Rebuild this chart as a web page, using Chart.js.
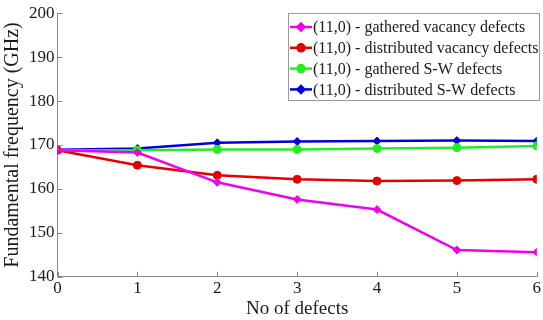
<!DOCTYPE html>
<html>
<head>
<meta charset="utf-8">
<script src="https://cdn.jsdelivr.net/npm/chart.js@4/dist/chart.umd.min.js"></script>
<style>
  body { margin: 0; background: #fff; overflow: hidden; }
  #wrap { width: 543px; height: 320px; }
</style>
</head>
<body>
<div id="wrap"><canvas id="myChart" width="543" height="320"></canvas></div>
<script>
let defects = [0, 1, 2, 3, 4, 5, 6];
let gatheredVacancy = [168.8, 168.3, 161.5, 157.6, 155.3, 146.1, 145.6];
let distributedVacancy = [168.8, 165.4, 163.1, 162.2, 161.8, 161.9, 162.2];
let gatheredSW = [168.8, 168.8, 169.0, 169.0, 169.2, 169.4, 169.8];
let distributedSW = [168.9, 169.2, 170.5, 170.8, 170.9, 171.0, 170.9];
let yTicks = [140, 150, 160, 170, 180, 190, 200];

let seriesNames = [
  "(11,0) - gathered vacancy defects",
  "(11,0) - distributed vacancy defects",
  "(11,0) - gathered S-W defects",
  "(11,0) - distributed S-W defects",
];
let seriesColors = ["#f000f0", "#e50000", "#22ee22", "#0000dd"];
let seriesMarkers = ["rectRot", "circle", "circle", "rectRot"];
let seriesData = [gatheredVacancy, distributedVacancy, gatheredSW, distributedSW];

let serif = "'Liberation Serif', 'Times New Roman', serif";

// legend box inside the plot + matlab style inward ticks
let extras = {
  id: "extras",
  afterDraw(chart) {
    let c = chart.ctx;
    let xs = chart.scales.x;
    let ys = chart.scales.y;
    c.save();
    c.strokeStyle = "#888";
    c.lineWidth = 1;
    defects.forEach((d) => {
      let px = Math.round(xs.getPixelForValue(d)) + 0.5;
      c.beginPath();
      c.moveTo(px, ys.bottom);
      c.lineTo(px, ys.bottom - 5);
      c.stroke();
    });
    yTicks.forEach((t) => {
      let py = Math.round(ys.getPixelForValue(t)) + 0.5;
      c.beginPath();
      c.moveTo(xs.left, py);
      c.lineTo(xs.left + 5, py);
      c.stroke();
    });

    // legend
    let bx = 288, by = 13, bw = 251, bh = 87;
    c.fillStyle = "#fff";
    c.fillRect(bx, by, bw, bh);
    c.strokeStyle = "#999";
    c.strokeRect(bx + 0.5, by + 0.5, bw, bh);
    c.font = "16px " + serif;
    c.textBaseline = "middle";
    seriesNames.forEach((name, i) => {
      let ry = 27 + i * 20.8;
      c.strokeStyle = seriesColors[i];
      c.fillStyle = seriesColors[i];
      c.lineWidth = 2.5;
      c.beginPath();
      c.moveTo(290, ry);
      c.lineTo(312, ry);
      c.stroke();
      Chart.helpers.drawPoint(c, { pointStyle: seriesMarkers[i], radius: 3.5, borderWidth: 1 }, 301, ry);
      c.fillStyle = "#1a1a1a";
      c.fillText(name, 313, ry + 1);
    });
    c.restore();
  },
};

let ctx = document.getElementById("myChart").getContext("2d");
let myChart = new Chart(ctx, {
  type: "line",
  data: {
    datasets: seriesData.map((vals, i) => ({
      label: seriesNames[i],
      data: vals.map((v, k) => ({ x: defects[k], y: v })),
      borderColor: seriesColors[i],
      backgroundColor: seriesColors[i],
      borderWidth: 2.5,
      pointStyle: seriesMarkers[i],
      pointRadius: 4,
      pointBorderWidth: 1,
      tension: 0,
    })),
  },
  options: {
    responsive: false,
    animation: false,
    layout: { padding: { left: 1, right: 3, top: 6, bottom: 0 } },
    plugins: {
      legend: { display: false },
      tooltip: { enabled: false },
    },
    scales: {
      x: {
        type: "linear",
        min: 0,
        max: 6,
        afterBuildTicks: (s) => { s.ticks = defects.map((v) => ({ value: v })); },
        grid: { display: false, drawTicks: false },
        border: { display: true, color: "#888", width: 1 },
        ticks: { color: "#1a1a1a", font: { family: serif, size: 17 }, padding: 2, maxRotation: 0 },
        title: { display: true, text: "No of defects", color: "#1a1a1a", font: { family: serif, size: 19 }, padding: { top: -4, bottom: 0 } },
      },
      y: {
        min: 140,
        max: 200,
        afterBuildTicks: (s) => { s.ticks = yTicks.map((v) => ({ value: v })); },
        grid: { display: false, drawTicks: false },
        border: { display: true, color: "#888", width: 1 },
        ticks: { color: "#1a1a1a", font: { family: serif, size: 17 }, padding: 3 },
        title: { display: true, text: "Fundamental frequency (GHz)", color: "#1a1a1a", font: { family: serif, size: 20 }, padding: { top: 0, bottom: 1 } },
      },
    },
  },
  plugins: [extras],
});
</script>
</body>
</html>
